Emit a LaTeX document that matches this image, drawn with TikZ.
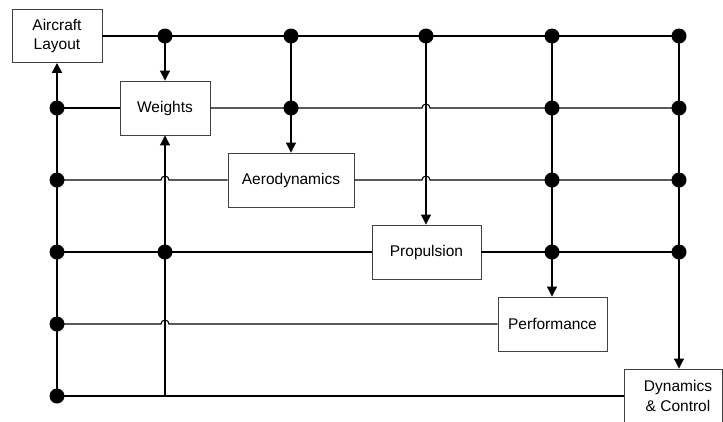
\documentclass[tikz,border=0pt]{standalone}
\usepackage{fontspec}
\setmainfont{Liberation Sans}
\usetikzlibrary{arrows.meta}
\begin{document}
\begin{tikzpicture}[x=1pt,y=-1pt,
  blk/.style={draw=black!75, line width=0.9pt, fill=white, inner sep=0pt,
    minimum height=54pt, align=center, font=\fontsize{15.5}{19.5}\selectfont},
  wire/.style={line width=1.1pt},
  bus/.style={line width=2pt, -{Triangle[length=10pt,width=10pt]}},
  feed/.style={wire, -{Triangle[length=10pt,width=10pt]}},
  hop/.style={}]
\useasboundingbox (0,0) rectangle (723,421);
\clip (0,0) rectangle (723,421);

% grid of junction points: columns L W A P F D, rows 1..6
\foreach \c/\x in {L/57,W/165,A/291,P/426,F/552,D/679}
  \foreach \r/\y in {1/36,2/108,3/180,4/252,5/324,6/396}
    \coordinate (\c\r) at (\x,\y);

% discipline blocks
\node[blk, minimum width=90pt, minimum height=53pt] (layout) at (57,36) {Aircraft\\Layout};
\node[blk, minimum width=90pt] (weights) at (165,108) {Weights};
\node[blk, minimum width=126pt] (aero) at (291,180) {Aerodynamics};
\node[blk, minimum width=109pt] (prop) at (426.5,252) {Propulsion};
\node[blk, minimum width=109pt] (perf) at (552.5,324) {Performance};
\node[blk, minimum width=98pt] (dyn) at (673,396) {\hspace*{10pt}Dynamics\\\hspace*{10pt}\& Control};

% horizontal data lines (with hops over crossing lines)
\draw[wire] (layout.east) -- (D1);
\draw[wire] (L2) -- (weights.west);
\draw[wire] (weights.east) -- ([xshift=-4pt]P2) arc[start angle=180,end angle=0,radius=4pt] -- (D2);
\draw[wire] (L3) -- ([xshift=-4pt]W3) arc[start angle=180,end angle=0,radius=4pt] -- (aero.west);
\draw[wire] (aero.east) -- ([xshift=-4pt]P3) arc[start angle=180,end angle=0,radius=4pt] -- (D3);
\draw[wire] (L4) -- (prop.west);
\draw[wire] (prop.east) -- (D4);
\draw[wire] (L5) -- ([xshift=-4pt]W5) arc[start angle=180,end angle=0,radius=4pt] -- (perf.west);
\draw[wire] (L6) -- (dyn.west);

% vertical feeds into blocks
\draw[bus] (L6) -- (layout.south);
\draw[feed] (W1) -- (weights.north);
\draw[feed] (W6) -- (weights.south);
\draw[feed] (A1) -- (aero.north);
\draw[feed] (P1) -- (P1 |- prop.north);
\draw[feed] (F1) -- (F1 |- perf.north);
\draw[feed] (D1) -- (D1 |- dyn.north);

% junction dots
\foreach \j in {W1,A1,P1,F1,D1,L2,A2,F2,D2,L3,F3,D3,L4,W4,F4,D4,L5,L6}
  \fill (\j) circle[radius=7.5pt];
\end{tikzpicture}
\end{document}
